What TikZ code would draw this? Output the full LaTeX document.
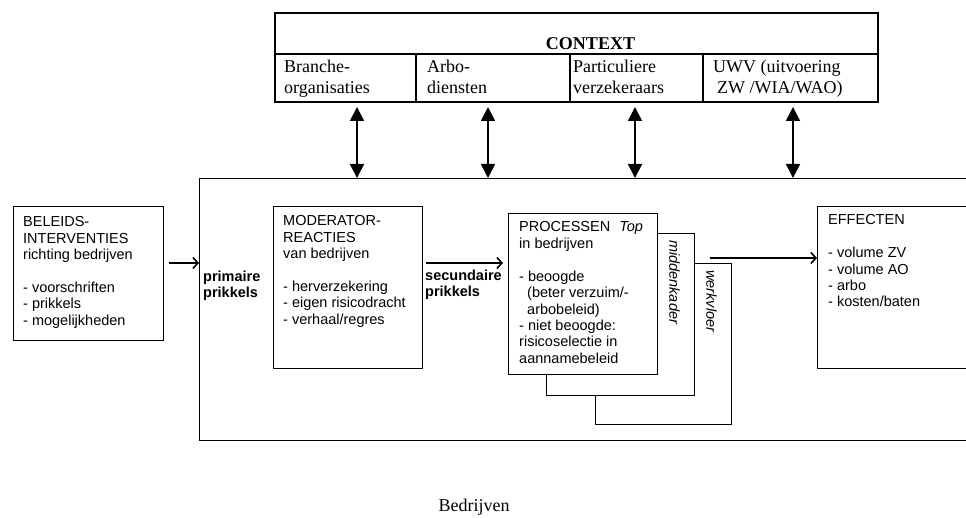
\documentclass[tikz,border=0pt]{standalone}
\usepackage{fontspec}
\setmainfont{Liberation Serif}
\setsansfont{Liberation Sans}
\usetikzlibrary{
  arrows.meta,
  positioning,
  calc
}

\begin{document}
\begin{tikzpicture}[
  x=1pt, y=-1pt,
  every node/.style={font=\sffamily\fontsize{14.5}{16.4}\selectfont},
  box/.style={draw, line width=0.8pt, anchor=north west,
              inner sep=0pt, outer sep=0pt},
  layer/.style={box, fill=white},
  txt/.style={anchor=base west, inner sep=0pt, align=left},
  stim/.style={txt, font=\sffamily\bfseries\fontsize{14.5}{16.4}\selectfont},
  side/.style={rotate=-90, anchor=north west, inner sep=0pt,
               font=\sffamily\itshape\fontsize{14.5}{16.4}\selectfont},
  cell/.style={draw, line width=1.6pt, anchor=north west,
               inner sep=0pt, outer sep=0pt, minimum height=48pt},
  celltxt/.style={anchor=base west, inner sep=0pt, align=left,
                  font=\rmfamily\fontsize{18}{21}\selectfont},
  flow/.style={-{Straight Barb[length=5pt,width=11pt]}, line width=1.6pt},
  link/.style={{Triangle[length=14pt,width=14pt]}-{Triangle[length=14pt,width=14pt]},
               line width=1.8pt}
]
\clip (0,0) rectangle (966,518);

% context table
\node[cell, minimum width=603pt, minimum height=41pt] (head) at (275,13) {};
\node[cell, minimum width=141pt] (brc) at (275,54) {};
\node[cell, minimum width=154pt] (arb) at (brc.north east) {};
\node[cell, minimum width=133pt] (part) at (arb.north east) {};
\node[cell, minimum width=175pt] (uwv) at (part.north east) {};

\node[anchor=base, inner sep=0pt, font=\rmfamily\bfseries\fontsize{18}{21}\selectfont]
  (ctxlbl) at ($(head.south)+(14,-4)$) {CONTEXT};
% (base = last line)
\node[celltxt] (brctxt) at ($(brc.north west)+(9,40)$) {Branche-\\organisaties};
\node[celltxt] (arbtxt) at ($(arb.north west)+(11,40)$) {Arbo-\\diensten};
\node[celltxt] (parttxt) at ($(part.north west)+(3,40)$) {Particuliere\\verzekeraars};
\node[celltxt] (uwvtxt) at ($(uwv.north west)+(10,40)$)
  {UWV (uitvoering\\\hspace*{4pt}ZW /WIA/WAO)};

% bedrijven frame
\node[box, minimum width=800pt, minimum height=262pt] (bedr) at (199,178) {};
\node[anchor=base, inner sep=0pt, font=\rmfamily\fontsize{18}{21}\selectfont]
  (bedrlbl) at (474,511) {Bedrijven};

% beleid
\node[box, minimum width=150pt, minimum height=134pt] (bel) at (13,206) {};
\node[txt] (beltxt) at ($(bel.north west)+(10,119.4)$)
  {BELEIDS-\\INTERVENTIES\\richting bedrijven\\[16.4pt]- voorschriften\\- prikkels\\- mogelijkheden};

% moderator
\node[box, minimum width=149pt, minimum height=162pt] (mod) at (273,206) {};
\node[txt] (modtxt) at ($(mod.north west)+(10,118.4)$)
  {MODERATOR-\\REACTIES\\van bedrijven\\[16.4pt]- herverzekering\\- eigen risicodracht\\- verhaal/regres};

\node[stim] (prim) at (203,298) {primaire\\prikkels};
\node[stim] (sec) at (425,297) {secundaire\\prikkels};

% processen, three layers
\node[layer, minimum width=136pt, minimum height=161pt] (werk) at (595,263) {};
\node[layer, minimum width=148pt, minimum height=162pt] (midd) at (546,233) {};
\node[layer, minimum width=149pt, minimum height=161pt] (proc) at (508,213) {};
\node[side] (middtxt) at ($(midd.north east)+(-14,7)$) {middenkader};
\node[side] (werktxt) at ($(werk.north east)+(-14,7)$) {werkvloer};
\node[txt] (proctxt) at ($(proc.north west)+(11,150.2)$)
  {PROCESSEN\hspace{9pt}\textit{Top}\\in bedrijven\\[16.4pt]- beoogde\\\hspace*{8pt}(beter verzuim/-\\\hspace*{8pt}arbobeleid)\\- niet beoogde:\\risicoselectie in\\aannamebeleid};

% effecten
\node[box, minimum width=200pt, minimum height=162pt] (eff) at (817,206) {};
\node[txt] (efftxt) at ($(eff.north west)+(11,101)$)
  {EFFECTEN\\[16.4pt]- volume ZV\\- volume AO\\- arbo\\- kosten/baten};

% arrows
\coordinate (lvl) at (0,263);
\coordinate (lvl2) at (0,258);
\draw[flow] ($(bel.east |- lvl)+(6,0)$) -- (bedr.west |- lvl);
\draw[flow] ($(mod.east |- lvl)+(4,0)$) -- ($(proc.west |- lvl)+(-5,0)$);
\draw[flow] ($(werk.north east |- lvl2)+(-21,0)$) -- (eff.west |- lvl2);

\coordinate (c1) at (357,0);
\coordinate (c2) at (488,0);
\coordinate (c3) at (635,0);
\coordinate (c4) at (793,0);
\draw[link] ($(brc.south -| c1)+(0,5)$) -- (bedr.north -| c1);
\draw[link] ($(arb.south -| c2)+(0,5)$) -- (bedr.north -| c2);
\draw[link] ($(part.south -| c3)+(0,5)$) -- (bedr.north -| c3);
\draw[link] ($(uwv.south -| c4)+(0,5)$) -- (bedr.north -| c4);

\end{tikzpicture}
\end{document}
